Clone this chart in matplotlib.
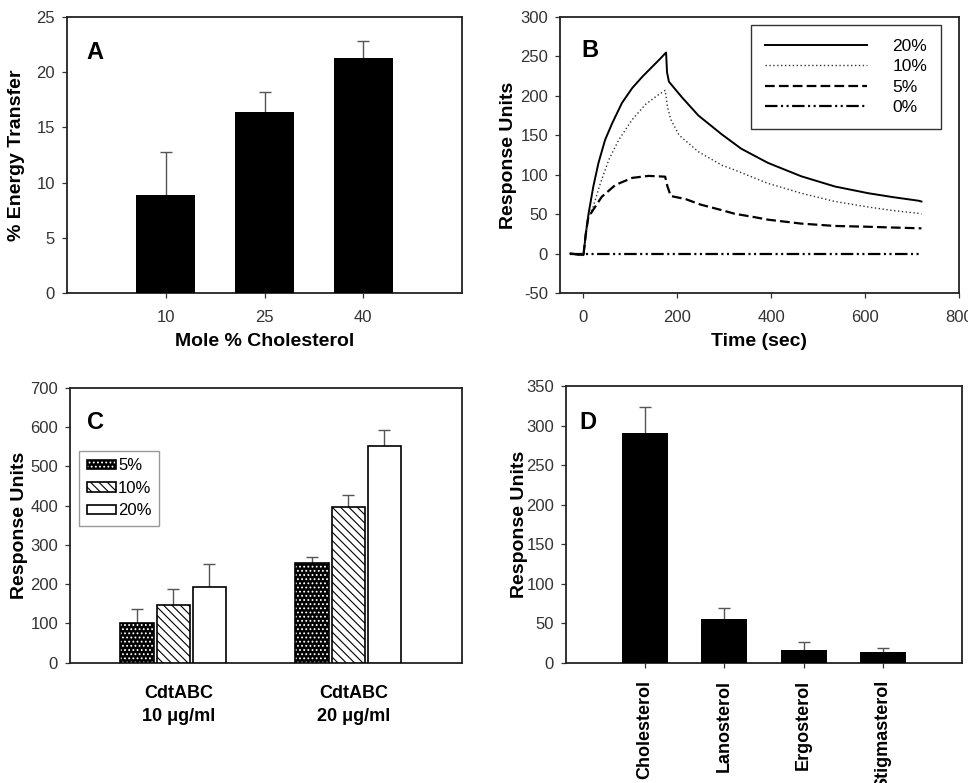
import numpy as np
import matplotlib
matplotlib.use('Agg')
import matplotlib.pyplot as plt
from matplotlib.patches import Patch
from matplotlib.legend_handler import HandlerTuple
from matplotlib.transforms import ScaledTranslation

plt.rcParams['font.family'] = ['Liberation Sans', 'DejaVu Sans']
plt.rcParams['axes.unicode_minus'] = False
plt.rcParams['hatch.linewidth'] = 0.8
plt.rcParams['lines.scale_dashes'] = False
plt.rcParams['axes.linewidth'] = 1.3
plt.rcParams['axes.edgecolor'] = '#222222'
plt.rcParams['xtick.major.size'] = 3.6
plt.rcParams['ytick.major.size'] = 3.6
plt.rcParams['xtick.major.width'] = 0.9
plt.rcParams['ytick.major.width'] = 0.9
plt.rcParams['xtick.color'] = '#333333'
plt.rcParams['ytick.color'] = '#333333'
plt.rcParams['xtick.major.pad'] = 8.5
plt.rcParams['ytick.major.pad'] = 5
plt.rcParams['xtick.labelsize'] = 12
plt.rcParams['ytick.labelsize'] = 12

# --- panel A: energy transfer vs cholesterol
moles = ['10', '25', '40']
energy = [8.9, 16.4, 21.3]
energy_err = [3.9, 1.8, 1.5]

# --- panel B: sensorgrams
t20 = [-28, 0, 5, 11, 21, 32, 46, 61, 82, 104, 125, 150, 165, 176, 178, 182,
       210, 245, 295, 336, 393, 464, 536, 607, 660, 714, 720]
v20 = [0, -2, 25, 51, 85, 115, 144, 165, 191, 210, 224, 239, 248, 255, 230, 218,
       198, 175, 151, 133, 115, 98, 85, 76.5, 71.5, 67, 66]
t10 = [-28, 0, 5, 10, 21, 36, 54, 75, 104, 132, 154, 174, 179, 186, 204, 245,
       295, 322, 393, 464, 536, 607, 660, 714, 720]
v10 = [0, -2, 25, 45, 60, 89, 119, 144, 170, 189, 199, 207, 186, 170, 150, 129,
       112, 106, 89, 76.5, 66, 59, 54.5, 51, 50]
t5 = [-28, 0, 5, 10, 18, 39, 68, 104, 139, 174, 179, 186, 218, 250, 295, 322,
      366, 393, 464, 536, 607, 660, 720]
v5 = [0, -2, 25, 45, 53, 72, 87, 96, 98.5, 97.5, 85, 73, 69, 62, 55, 50.5,
      46, 43, 38, 35, 34, 33, 32]
t0 = [-28, 720]
v0 = [0, 0]

# --- panel C: CdtABC binding
groups = ['CdtABC\n10 μg/ml', 'CdtABC\n20 μg/ml']
c_labels = ['5%', '10%', '20%']
c5 = [100, 255]
c5_err = [38, 15]
c10 = [147, 396]
c10_err = [42, 31]
c20 = [194, 553]
c20_err = [57, 41]

# --- panel D: sterols
sterols = ['Cholesterol', 'Lanosterol', 'Ergosterol', 'Stigmasterol']
sterol_ru = [290, 55, 16, 13.5]
sterol_err = [34, 15, 11, 6]

fig = plt.figure(figsize=(9.68, 7.83), dpi=100)

axA = fig.add_axes([0.0692, 0.6258, 0.4081, 0.3525])
axB = fig.add_axes([0.5785, 0.6258, 0.4122, 0.3525])
axC = fig.add_axes([0.0723, 0.1536, 0.4050, 0.3509])
axD = fig.add_axes([0.5847, 0.1533, 0.4091, 0.3537])

lab = dict(fontsize=14, fontweight='bold')
letter = dict(fontsize=17, fontweight='bold')
ekw = dict(fmt='none', ecolor='#555555', elinewidth=1.0, capsize=4, capthick=1.0, zorder=2)


def up_err(ax, x, y, err):
    # only the upper half of the error bar, no cap at the bar top
    eb = ax.errorbar(x, y, yerr=[np.zeros(len(x)), err], **ekw)
    eb[1][0].set_visible(False)


# A
xa = np.arange(len(moles))
axA.bar(xa, energy, width=0.6, color='black', zorder=3)
up_err(axA, xa, energy, energy_err)
axA.set_xlim(-1, 3)
axA.set_ylim(0, 25)
axA.set_xticks(xa)
axA.set_xticklabels(moles)
axA.set_yticks(range(0, 26, 5))
axA.set_xlabel('Mole % Cholesterol', **lab)
axA.set_ylabel('% Energy Transfer', **lab)
axA.xaxis.set_label_coords(0.5, -0.145)
axA.yaxis.set_label_coords(-0.106, 0.5)
axA.text(0.05, 0.848, 'A', transform=axA.transAxes, **letter)

# B
axB.plot(t20, v20, color='black', lw=1.4, label='20%')
axB.plot(t10, v10, color='#333333', lw=1.0, ls=(0, (1, 1.8)), label='10%')
axB.plot(t5, v5, color='black', lw=1.6, ls=(0, (7, 3)), label='5%')
axB.plot(t0, v0, color='black', lw=1.6, ls=(0, (9, 2.5, 1.5, 2.5, 1.5, 2.5)), label='0%')
axB.set_xlim(-50, 800)
axB.set_ylim(-50, 300)
axB.set_xticks(range(0, 801, 200))
axB.set_yticks(range(-50, 301, 50))
axB.set_xlabel('Time (sec)', **lab)
axB.set_ylabel('Response Units', **lab)
axB.xaxis.set_label_coords(0.5, -0.145)
axB.yaxis.set_label_coords(-0.108, 0.5)
axB.text(0.053, 0.855, 'B', transform=axB.transAxes, **letter)
legB = axB.legend(loc='upper right', bbox_to_anchor=(0.955, 0.971), borderaxespad=0,
                  fontsize=12.5, handlelength=5.9, handletextpad=1.45, labelspacing=0.3,
                  borderpad=0.8, fancybox=False, framealpha=1, edgecolor='#333333')
legB.get_frame().set_linewidth(1.0)

# C
xc = np.arange(len(groups))
step = 0.206
wc = 0.189
axC.bar(xc - step, c5, width=wc, color='black', edgecolor='white', hatch='....', linewidth=0, zorder=3)
axC.bar(xc - step, c5, width=wc, fill=False, edgecolor='black', linewidth=1.2, zorder=3)
axC.bar(xc, c10, width=wc, color='white', edgecolor='black', hatch='\\\\\\\\', linewidth=1.2, zorder=3)
axC.bar(xc + step, c20, width=wc, color='white', edgecolor='black', linewidth=1.2, zorder=3)
for off, vals, errs in [(-step, c5, c5_err), (0, c10, c10_err), (step, c20, c20_err)]:
    up_err(axC, xc + off, vals, errs)
axC.set_xlim(-0.589, 1.651)
axC.set_ylim(0, 700)
axC.set_yticks(range(0, 701, 100))
axC.set_xticks(xc)
axC.set_xticklabels(groups, fontsize=13, fontweight='bold', color='black', linespacing=1.5)
axC.tick_params(axis='x', length=0, pad=16)
shift = ScaledTranslation(6 / 100, 0, fig.dpi_scale_trans)
for t in axC.get_xticklabels():
    t.set_transform(t.get_transform() + shift)
axC.set_ylabel('Response Units', **lab)
axC.yaxis.set_label_coords(-0.107, 0.5)
axC.text(0.043, 0.85, 'C', transform=axC.transAxes, **letter)
h5 = Patch(facecolor='black', edgecolor='white', hatch='....', linewidth=0)
h5e = Patch(fill=False, edgecolor='black', linewidth=1.2)
h10 = Patch(facecolor='white', edgecolor='black', hatch='\\\\\\\\', linewidth=1.2)
h20 = Patch(facecolor='white', edgecolor='black', linewidth=1.2)
legC = axC.legend([(h5, h5e), h10, h20], c_labels, loc='upper left',
                  bbox_to_anchor=(0.023, 0.771), borderaxespad=0, fontsize=12,
                  handlelength=1.75, handleheight=0.5, handletextpad=0.15,
                  labelspacing=0.45, borderpad=0.45, fancybox=False, framealpha=1,
                  edgecolor='#999999', handler_map={tuple: HandlerTuple(ndivide=1, pad=0)})
legC.get_frame().set_linewidth(1.0)

# D
xd = np.arange(len(sterols))
axD.bar(xd, sterol_ru, width=0.58, color='black', zorder=3)
up_err(axD, xd, sterol_ru, sterol_err)
axD.set_xlim(-1, 4)
axD.set_ylim(0, 350)
axD.set_yticks(range(0, 351, 50))
axD.set_xticks(xd)
axD.set_xticklabels(sterols, rotation=90, fontsize=13, fontweight='bold', color='black')
axD.set_ylabel('Response Units', **lab)
axD.yaxis.set_label_coords(-0.096, 0.5)
axD.text(0.033, 0.845, 'D', transform=axD.transAxes, **letter)

fig.savefig('out.png', dpi=100)
